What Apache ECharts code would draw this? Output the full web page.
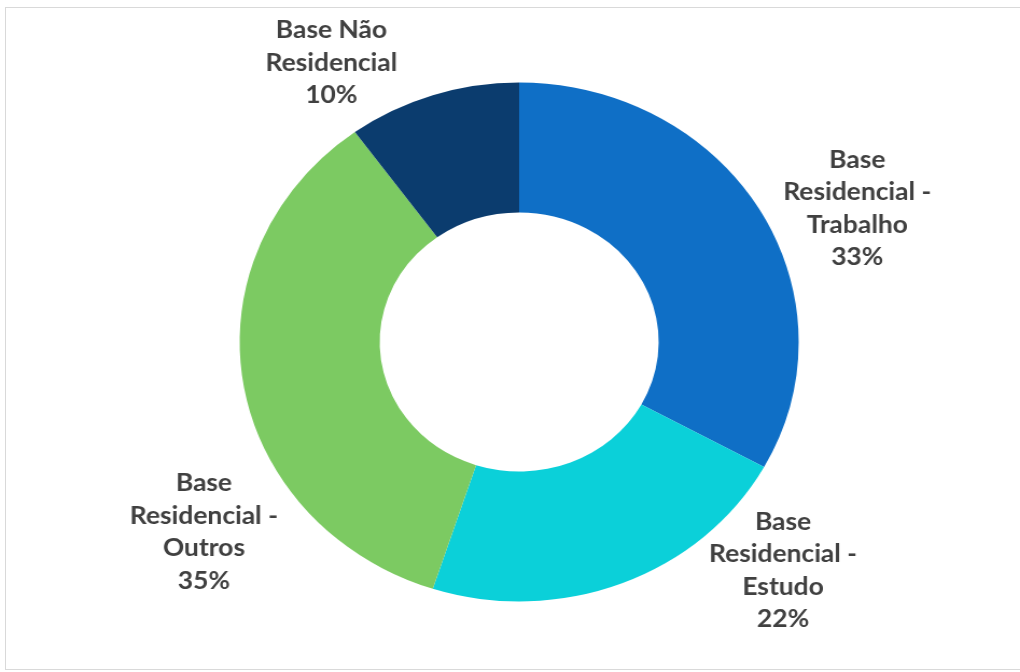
<!DOCTYPE html>
<html>
<head>
<meta charset="utf-8">
<script src="https://cdn.jsdelivr.net/npm/echarts@6/dist/echarts.min.js"></script>
<style>
  html, body { margin: 0; padding: 0; background: #fff; overflow: hidden; }
  #frame {
    position: absolute; left: 5px; top: 7px; width: 1030px; height: 663px;
    border: 1px solid #d9d9d9; box-sizing: border-box;
  }
  /* the whole drawing is widened slightly on the horizontal axis */
  #chart {
    position: absolute; left: 0; top: 0; width: 947px; height: 672px;
    transform: scaleX(1.0771); transform-origin: 0 0;
  }
</style>
</head>
<body>
<div id="frame"></div>
<div id="chart"></div>
<script>
// Slices, clockwise from 12 o'clock
const categories = [
  'Base\nResidencial -\nTrabalho',
  'Base\nResidencial -\nEstudo',
  'Base\nResidencial -\nOutros',
  'Base Não\nResidencial'
];
const shares = [33, 22, 35, 10];
const colors = ['#0F6FC6', '#0BD0D9', '#7CCA62', '#0B3C6E'];

// Where each label block sits around the pie centre:
// [angle clockwise from 12 o'clock in degrees, distance in px]
const labelPlacement = [[67, 341], [133, 335], [237, 349], [328, 329]];

const CX = 482, CY = 342;

const chart = echarts.init(document.getElementById('chart'), null, { renderer: 'canvas' });

chart.setOption({
  animation: false,
  backgroundColor: 'transparent',
  series: [{
    type: 'pie',
    center: [CX, CY],
    radius: [129.5, 259.5],
    startAngle: 90,
    clockwise: true,
    avoidLabelOverlap: false,
    silent: true,
    itemStyle: { borderWidth: 0 },
    label: {
      show: true,
      position: 'outside',
      formatter: p => p.name + '\n' + p.value + '%',
      color: '#404040',
      fontFamily: 'Lato, "Open Sans", sans-serif',
      fontWeight: 'bold',
      fontSize: 24.5,
      lineHeight: 32.5,
      align: 'center'
    },
    labelLine: { show: false },
    labelLayout: function (p) {
      const [deg, dist] = labelPlacement[p.dataIndex];
      const t = deg * Math.PI / 180;
      return {
        x: CX + dist * Math.sin(t),
        y: CY - dist * Math.cos(t),
        align: 'center',
        verticalAlign: 'middle'
      };
    },
    data: categories.map((name, i) => ({
      name: name,
      value: shares[i],
      itemStyle: { color: colors[i] }
    }))
  }]
});
</script>
</body>
</html>
